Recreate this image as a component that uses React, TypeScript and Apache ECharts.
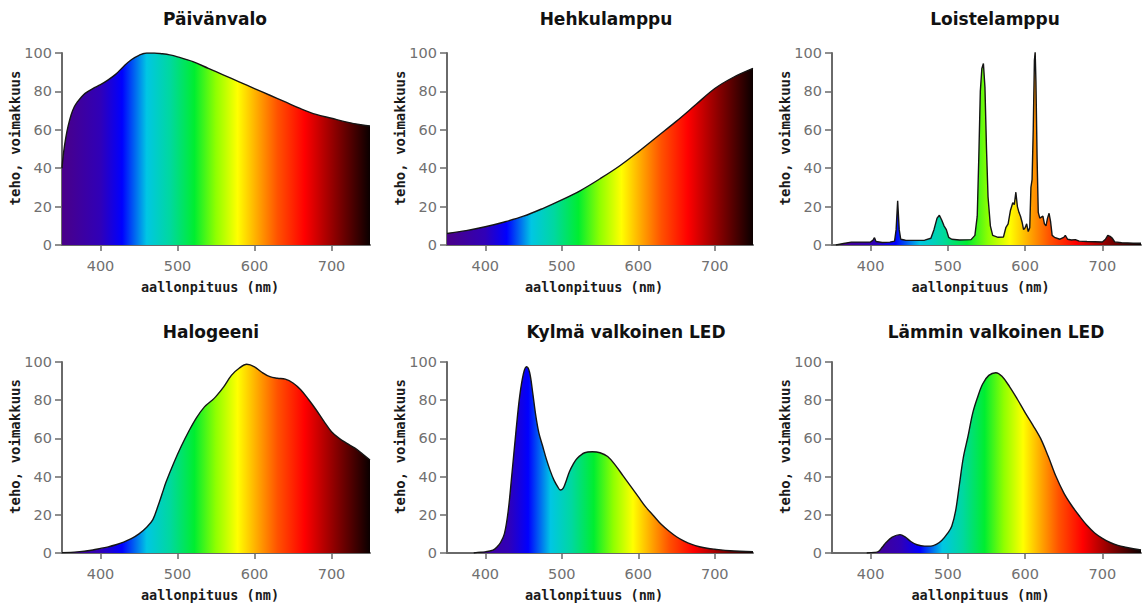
import React, { useEffect, useRef } from 'react';
import * as echarts from 'echarts';

// ---------- texts ----------
const titles = [
  'Päivänvalo',
  'Hehkulamppu',
  'Loistelamppu',
  'Halogeeni',
  'Kylmä valkoinen LED',
  'Lämmin valkoinen LED',
];
const yAxisName = 'teho, voimakkuus';
const xAxisName = 'aallonpituus (nm)';
const xTickValues = [400, 500, 600, 700];

// ---------- spectrum colour stops (position along the filled span, 350..750 scale) ----------
const spectrumNm = [350, 400, 428, 460, 490, 522, 550, 578, 605, 630, 665, 705, 750];
const spectrumColors = [
  '#4a0088', '#3000b8', '#0000ff', '#00c6e4', '#00d8a0', '#00ee30',
  '#90ff00', '#ffff00', '#ffa400', '#ff5200', '#ff0000', '#8a0000', '#0a0000',
];

// ---------- data ----------
const daylightNm = [350, 352, 355, 358, 362, 366, 370, 375, 380, 390, 400, 410, 420, 430, 440, 450, 460, 470, 480, 490, 500, 520, 540, 560, 580, 600, 620, 640, 660, 680, 700, 720, 740, 750];
const daylightPower = [40, 48, 56, 62, 68, 72, 74.5, 77, 79, 81.5, 83.5, 86, 89, 93, 96.5, 98.8, 100, 100, 99.6, 99, 98, 95.5, 92, 88.5, 85, 81.5, 78, 74.5, 71, 68, 66, 64, 62.5, 62];

const incandescentNm = [350, 375, 400, 425, 450, 475, 500, 525, 550, 575, 600, 625, 650, 675, 700, 725, 750];
const incandescentPower = [6, 7.5, 9.5, 12, 15, 19, 23.5, 28.5, 34.5, 41, 48.5, 56.5, 64.5, 73, 81.5, 87.5, 92];

const fluorescentNm = [355, 365, 375, 390, 400, 403, 405, 407, 415, 425, 431, 433, 435, 437, 439, 445, 460, 470, 478, 482, 486, 489, 492, 495, 498, 501, 505, 515, 530, 535, 538, 540, 542, 544, 546, 548, 550, 552, 555, 558, 565, 572, 575, 578, 581, 584, 586, 588, 590, 592, 594, 596, 598, 600, 602, 604, 606, 607.5, 609, 610.5, 612, 613, 614, 615.5, 617, 619, 621, 623, 625, 627, 629, 631, 633, 635, 638, 645, 650, 652, 655, 660, 665, 670, 680, 690, 700, 704, 707, 710, 713, 716, 725, 740, 750];
const fluorescentPower = [0, 0.8, 1.5, 1.5, 1.6, 2.5, 3.8, 1.8, 1.3, 1.5, 2, 8, 23, 8, 3, 2.5, 2.4, 2.5, 3.5, 8, 14, 15.5, 13, 10, 8, 4, 3, 2.6, 2.8, 5, 15, 45, 80, 92, 94.5, 82, 50, 25, 10, 5, 4, 4.2, 9, 11, 18, 22, 21, 27.5, 20, 17, 15, 12, 8, 9, 11, 7, 9, 30, 34, 60, 96, 100.5, 85, 45, 17, 14, 14.5, 15, 11, 10, 14, 16.5, 12, 5, 4, 3, 4, 5, 3, 2.6, 2.8, 2, 1.8, 1.7, 1.6, 3, 5, 4.5, 3.5, 1.6, 1.2, 1, 0.9];

const halogenNm = [350, 370, 390, 400, 410, 420, 430, 440, 450, 460, 468, 475, 480, 485, 495, 505, 515, 525, 535, 545, 550, 560, 570, 580, 590, 600, 610, 620, 630, 640, 650, 660, 670, 680, 690, 700, 710, 720, 730, 740, 750];
const halogenPower = [0.2, 0.6, 1.6, 2.4, 3.2, 4.3, 5.7, 7.5, 10, 13.5, 17.5, 25, 31, 37, 47, 56, 64, 71, 76.5, 80, 82, 87, 93, 96.7, 98.8, 97.5, 94.5, 92.3, 91.5, 91, 89, 85.5, 80.5, 75, 69, 63.5, 60, 57.4, 55, 52, 48.7];

const coolLedNm = [385, 390, 400, 410, 415, 420, 425, 430, 435, 440, 445, 450, 454, 458, 462, 466, 470, 475, 480, 485, 490, 495, 498, 502, 506, 510, 515, 520, 530, 540, 550, 560, 570, 580, 590, 600, 610, 620, 630, 640, 650, 660, 670, 680, 690, 700, 720, 750];
const coolLedPower = [0, 0.3, 0.6, 1.5, 3, 5.5, 10, 22, 42, 63, 82, 94, 97.5, 94.5, 84, 72, 63, 56, 49, 43, 38, 34.5, 33, 34, 38, 42.5, 46.5, 49.5, 52.5, 53, 52.5, 50.5, 46, 40.5, 35, 29.5, 24, 19.5, 15, 11.5, 8.5, 6.2, 4.5, 3.3, 2.5, 2, 1.2, 0.7];

const warmLedNm = [395, 405, 410, 415, 420, 428, 438, 445, 452, 460, 470, 478, 485, 492, 500, 505, 510, 515, 520, 526, 532, 538, 545, 553, 562, 570, 580, 590, 600, 610, 620, 630, 640, 650, 660, 670, 680, 690, 700, 710, 720, 730, 740, 750];
const warmLedPower = [0, 0.3, 0.8, 3, 5.5, 8.3, 9.6, 8.3, 6, 4.3, 3.6, 3.6, 4.5, 6.5, 10.5, 14, 22, 36, 50, 61, 73, 81, 88.5, 93, 94.4, 92.5, 87, 80.5, 73.5, 67, 60, 50.5, 40, 31.5, 25, 19.5, 14.5, 10.5, 7.7, 5.5, 4, 3, 2.2, 1.6];

const panelNm = [daylightNm, incandescentNm, fluorescentNm, halogenNm, coolLedNm, warmLedNm];
const panelPower = [daylightPower, incandescentPower, fluorescentPower, halogenPower, coolLedPower, warmLedPower];
const panelSmooth = [0.35, 0.35, false, 0.35, 0.35, 0.35];

// ---------- layout ----------
const colLeft = [62, 447, 832];
const colWidth = [308, 306, 309];
const rowTop = [53, 362];
const rowHeight = [192, 191];
const titleCenter = [[215, 606, 995], [211, 626, 996]];
const titleTop = [10, 323];

const labelFont = 'DejaVu Sans';
const nameFont = 'DejaVu Sans Mono';

export default function App() {
  const ref = useRef<HTMLDivElement>(null);

  useEffect(() => {
    if (!ref.current) return;
    const chart = echarts.init(ref.current, undefined, { renderer: 'svg' });

    const grids: any[] = [];
    const xAxes: any[] = [];
    const yAxes: any[] = [];
    const series: any[] = [];
    const titleOpts: any[] = [];
    const graphics: any[] = [];

    const stops = spectrumNm.map((nm, k) => ({
      offset: (nm - 350) / 400,
      color: spectrumColors[k],
    }));

    for (let i = 0; i < 6; i++) {
      const r = Math.floor(i / 3);
      const c = i % 3;
      grids.push({
        left: colLeft[c],
        top: rowTop[r],
        width: colWidth[c],
        height: rowHeight[r],
        containLabel: false,
        outerBoundsMode: 'none',
      });
      xAxes.push({
        type: 'value',
        gridIndex: i,
        min: 350,
        max: 750,
        name: xAxisName,
        nameLocation: 'middle',
        nameGap: 35,
        nameTextStyle: {
          fontFamily: nameFont,
          fontWeight: 'bold',
          fontSize: 13.5,
          color: '#1a1a1a',
          padding: [0, 12, 0, 0],
        },
        axisLine: { show: true, lineStyle: { color: '#6a6a6a', width: 2 } },
        axisTick: {
          show: true,
          length: 6,
          customValues: xTickValues,
          lineStyle: { color: '#6a6a6a', width: 1.5 },
        },
        axisLabel: {
          customValues: xTickValues,
          margin: 13,
          fontFamily: labelFont,
          fontSize: 14.5,
          color: '#707070',
        },
        splitLine: { show: false },
      });
      yAxes.push({
        type: 'value',
        gridIndex: i,
        min: 0,
        max: 100,
        interval: 20,
        axisLine: { show: true, lineStyle: { color: '#6a6a6a', width: 2 } },
        axisTick: { show: true, length: 7, lineStyle: { color: '#6a6a6a', width: 1.5 } },
        axisLabel: {
          margin: 10,
          fontFamily: labelFont,
          fontSize: 14.5,
          color: '#707070',
        },
        splitLine: { show: false },
      });
      series.push({
        type: 'line',
        xAxisIndex: i,
        yAxisIndex: i,
        data: panelNm[i].map((nm, k) => [nm, panelPower[i][k]]),
        showSymbol: false,
        symbol: 'none',
        smooth: panelSmooth[i],
        lineStyle: { color: '#151515', width: 1.4 },
        areaStyle: {
          opacity: 1,
          color: new echarts.graphic.LinearGradient(0, 0, 1, 0, stops),
        },
        z: 1,
      });
      titleOpts.push({
        text: titles[i],
        left: titleCenter[r][c],
        top: titleTop[r],
        textAlign: 'center',
        padding: 0,
        textStyle: {
          fontFamily: 'DejaVu Sans',
          fontWeight: 'bold',
          fontSize: 17,
          color: '#111',
        },
      });
      graphics.push({
        type: 'text',
        x: colLeft[c] - 47,
        y: rowTop[r] + rowHeight[r] / 2 - 11,
        rotation: Math.PI / 2,
        style: {
          text: yAxisName,
          fontFamily: nameFont,
          fontWeight: 'bold',
          fontSize: 14,
          fill: '#1a1a1a',
          align: 'center',
          verticalAlign: 'middle',
        },
      });
    }

    chart.setOption({
      animation: false,
      backgroundColor: '#ffffff',
      title: titleOpts,
      grid: grids,
      xAxis: xAxes,
      yAxis: yAxes,
      series,
      graphic: graphics,
    });

    return () => chart.dispose();
  }, []);

  return (
    <div
      ref={ref}
      style={{ position: 'absolute', left: 0, top: 0, width: 1147, height: 603, background: '#fff' }}
    />
  );
}
